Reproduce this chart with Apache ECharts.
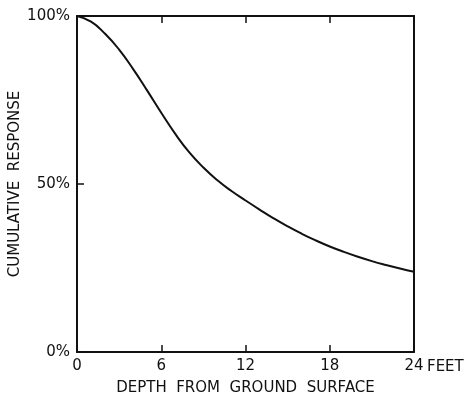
<!DOCTYPE html>
<html>
<head>
<meta charset="utf-8">
<script src="https://cdn.jsdelivr.net/npm/echarts@6/dist/echarts.min.js"></script>
<style>
  html, body {margin: 0; padding: 0; background: #fff;}
  #main {width: 471px; height: 395px;}
</style>
</head>
<body>
<div id="main"></div>
<script>
// depth in feet vs cumulative response in %
const depth = [0, 1, 2, 3, 4, 5, 6, 7, 8, 9, 10, 11, 12, 13, 14, 15, 16, 17, 18, 19, 20, 21, 22, 23, 24];
const response = [100, 98.3, 94.7, 90, 84.2, 77.8, 71.2, 64.9, 59.4, 54.9, 51.1, 47.9, 45.1, 42.4, 39.8, 37.4, 35.2, 33.2, 31.4, 29.8, 28.35, 27.05, 25.9, 24.85, 23.9];
const xTicks = [0, 6, 12, 18, 24];
const yTicks = [0, 50, 100];

const font = 'DejaVu Sans';
const ink = '#111';

const chart = echarts.init(document.getElementById('main'));

const frameLine = {show: true, onZero: false, lineStyle: {color: ink, width: 2}};
const innerTick = {show: true, inside: true, length: 7, lineStyle: {color: ink, width: 1.5}};

chart.setOption({
  animation: false,
  backgroundColor: '#fff',
  grid: {left: 77, top: 16, width: 337, height: 336, outerBoundsMode: 'none', containLabel: false},
  xAxis: [{
    type: 'value',
    min: xTicks[0],
    max: xTicks[xTicks.length - 1],
    interval: 6,
    axisLine: frameLine,
    axisTick: innerTick,
    splitLine: {show: false},
    axisLabel: {
      color: ink, fontFamily: font, fontSize: 15, margin: 7,
      formatter: v => xTicks.includes(v) ? String(v) : ''
    },
    name: 'DEPTH  FROM  GROUND  SURFACE',
    nameLocation: 'middle',
    nameGap: 29,
    nameMoveOverlap: false,
    nameTextStyle: {color: ink, fontFamily: font, fontSize: 15}
  }, {
    type: 'value',
    position: 'top',
    min: 0, max: 24, interval: 6,
    axisLine: frameLine,
    axisTick: innerTick,
    axisLabel: {show: false},
    splitLine: {show: false}
  }],
  yAxis: [{
    type: 'value',
    min: yTicks[0],
    max: yTicks[yTicks.length - 1],
    interval: 50,
    axisLine: frameLine,
    axisTick: innerTick,
    splitLine: {show: false},
    axisLabel: {
      color: ink, fontFamily: font, fontSize: 15, margin: 7,
      formatter: v => yTicks.includes(v) ? v + '%' : ''
    },
    name: 'CUMULATIVE  RESPONSE',
    nameLocation: 'middle',
    nameGap: 54,
    nameMoveOverlap: false,
    nameRotate: 90,
    nameTextStyle: {color: ink, fontFamily: font, fontSize: 15}
  }, {
    type: 'value',
    position: 'right',
    min: 0, max: 100, interval: 50,
    axisLine: frameLine,
    axisTick: {show: false},
    axisLabel: {show: false},
    splitLine: {show: false}
  }],
  graphic: [{
    type: 'text',
    left: 427,
    top: 360,
    style: {text: 'FEET', fill: ink, font: '15px "DejaVu Sans"'}
  }],
  series: [{
    type: 'line',
    data: depth.map((d, i) => [d, response[i]]),
    smooth: true,
    showSymbol: false,
    lineStyle: {color: ink, width: 2}
  }]
});
</script>
</body>
</html>
